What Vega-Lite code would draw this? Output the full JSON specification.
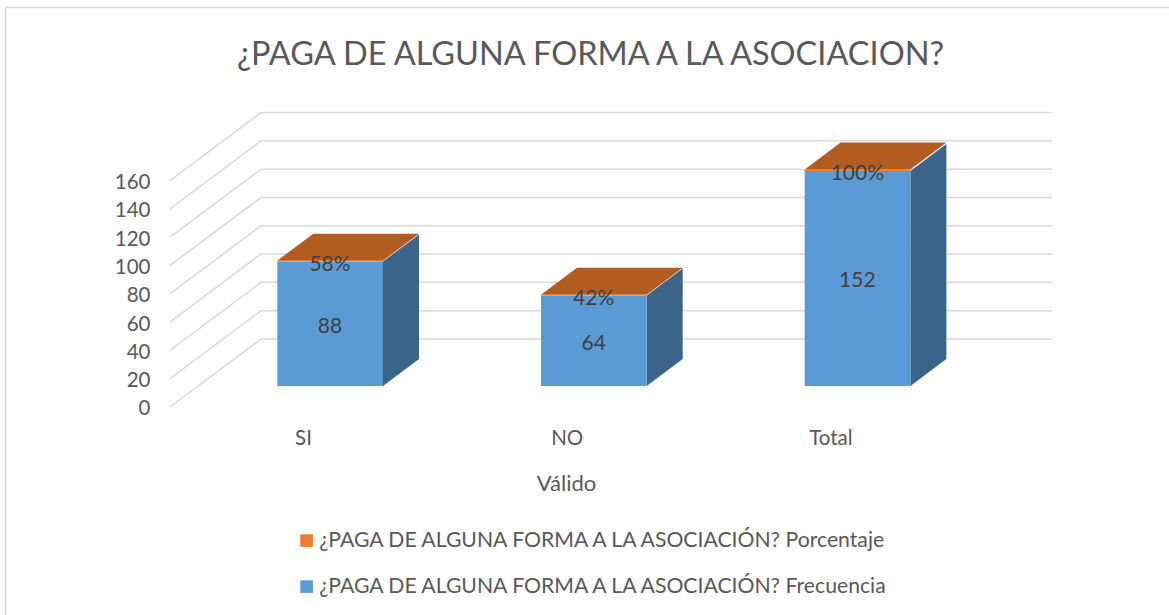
{
"$schema":"https://vega.github.io/schema/vega-lite/v6.json",
"width":1169,"height":615,"padding":0,"autosize":{"type":"none"},
"background":"white",
"config":{"view":{"stroke":null},"font":"Lato"},
"title":{"text":"¿PAGA DE ALGUNA FORMA A LA ASOCIACION?","font":"Lato","fontSize":32.5,"fontWeight":"normal","color":"#595959","anchor":"middle","frame":"group","offset":-71,"dx":6},
"datasets":{
"barras":[
{"categoria":"SI","serie":"¿PAGA DE ALGUNA FORMA A LA ASOCIACIÓN? Frecuencia","valor":88},
{"categoria":"NO","serie":"¿PAGA DE ALGUNA FORMA A LA ASOCIACIÓN? Frecuencia","valor":64},
{"categoria":"Total","serie":"¿PAGA DE ALGUNA FORMA A LA ASOCIACIÓN? Frecuencia","valor":152},
{"categoria":"SI","serie":"¿PAGA DE ALGUNA FORMA A LA ASOCIACIÓN? Porcentaje","valor":0.58},
{"categoria":"NO","serie":"¿PAGA DE ALGUNA FORMA A LA ASOCIACIÓN? Porcentaje","valor":0.42},
{"categoria":"Total","serie":"¿PAGA DE ALGUNA FORMA A LA ASOCIACIÓN? Porcentaje","valor":1}
],
"rejilla":[{"valor":0},{"valor":20},{"valor":40},{"valor":60},{"valor":80},{"valor":100},{"valor":120},{"valor":140},{"valor":160}]
},
"layer":[
{"data":{"name":"rejilla"},
 "transform":[{"calculate":"[0,1,2]","as":"t"},{"flatten":["t"]},
  {"calculate":"datum.t==0?-0.5044:(datum.t==1?-0.1593:2.84)","as":"gx"},
  {"calculate":"datum.valor+(datum.t>0?48.06:0)","as":"gy"}],
 "mark":{"type":"line","color":"#D9D9D9","strokeWidth":1.5,"interpolate":"linear"},
 "encoding":{
  "x":{"field":"gx","type":"quantitative","sort":null,"scale":{"domain":[-1.1491,3.2842],"nice":false,"zero":false},
   "axis":{"title":"Válido","values":[0,1,2],"labelExpr":"datum.value==0?'SI':(datum.value==1?'NO':'Total')","offset":-187,"domain":false,"ticks":false,"grid":false,"labelFont":"Lato","labelFontSize":20.5,"labelColor":"#595959","labelPadding":0,"titleFont":"Lato","titleFontSize":22,"titleFontWeight":"normal","titleColor":"#595959","titleX":566,"titleY":45,"titleAnchor":"middle"}},
  "y":{"field":"gy","type":"quantitative","scale":{"domain":[-147,287.6],"nice":false,"zero":false},
   "axis":{"title":null,"values":[0,20,40,60,80,100,120,140,160],"offset":-150,"domain":false,"ticks":false,"grid":false,"labelFont":"Lato","labelFontSize":20.5,"labelColor":"#595959","labelPadding":0,"labelBaseline":"middle","labelOffset":2}},
  "detail":{"field":"valor"},
  "order":{"field":"t"}
 }},
{"data":{"values":[{}]},"mark":{"type":"rule","color":"#D9D9D9","strokeWidth":1.5},
 "encoding":{"x":{"datum":-1.128},"y":{"datum":-147},"y2":{"datum":282.3}}},
{"data":{"values":[{}]},"mark":{"type":"rule","color":"#D9D9D9","strokeWidth":1.5},
 "encoding":{"x":{"datum":-1.128},"x2":{"datum":3.2842},"y":{"datum":282.3}}},
{"data":{"name":"barras"},
 "transform":[
  {"stack":"valor","groupby":["categoria"],"sort":[{"field":"serie","order":"ascending"}],"as":["v0","v1"]},
  {"calculate":"indexof(['SI','NO','Total'],datum.categoria)","as":"pos"},
  {"calculate":"datum.v0+14.84","as":"base"},
  {"calculate":"datum.v1+14.84","as":"cima"}
 ],
 "layer":[
  {"transform":[{"filter":"indexof(datum.serie,'Frecuencia')>=0"},{"calculate":"[0,1]","as":"t"},{"flatten":["t"]},
    {"calculate":"datum.pos+0.3034+datum.t*0.1365","as":"sx"},
    {"calculate":"datum.base+datum.t*19.08","as":"sy"},
    {"calculate":"datum.cima+datum.t*19.08","as":"sy2"}],
   "mark":{"type":"area","orient":"vertical","color":"#3A6489"},
   "encoding":{"x":{"field":"sx","type":"quantitative"},"y":{"field":"sy","type":"quantitative"},"y2":{"field":"sy2"},"detail":{"field":"categoria"}}},
  {"transform":[{"filter":"indexof(datum.serie,'Porcentaje')>=0"},{"calculate":"[0,1,2,3]","as":"t"},{"flatten":["t"]},
    {"calculate":"datum.pos+[-0.0975,0.039,0.3034,0.4399][datum.t]","as":"tx"},
    {"calculate":"datum.cima+(datum.t==3?19.08:0)","as":"ty"},
    {"calculate":"datum.cima+(datum.t>=1?19.08:0)","as":"ty2"}],
   "mark":{"type":"area","orient":"vertical","color":"#B35C21"},
   "encoding":{"x":{"field":"tx","type":"quantitative"},"y":{"field":"ty","type":"quantitative"},"y2":{"field":"ty2"},"detail":{"field":"categoria"}}},
  {"transform":[{"calculate":"datum.pos-0.0975","as":"fx"},{"calculate":"datum.pos+0.3034","as":"fx2"}],
   "mark":{"type":"rect"},
   "encoding":{"x":{"field":"fx","type":"quantitative"},"x2":{"field":"fx2"},"y":{"field":"base","type":"quantitative"},"y2":{"field":"cima"},
    "color":{"field":"serie","type":"nominal","scale":{"domain":["¿PAGA DE ALGUNA FORMA A LA ASOCIACIÓN? Porcentaje","¿PAGA DE ALGUNA FORMA A LA ASOCIACIÓN? Frecuencia"],"range":["#ED7D31","#5B9BD5"]},
     "legend":{"title":null,"orient":"none","legendX":296,"legendY":530,"direction":"vertical","columns":1,"symbolType":"square","symbolSize":160,"symbolStrokeWidth":0,"labelFont":"Lato","labelFontSize":21.2,"labelColor":"#595959","labelLimit":700,"rowPadding":24,"labelOffset":2}}}},
  {"transform":[{"filter":"indexof(datum.serie,'Frecuencia')>=0"},{"calculate":"datum.pos+0.1024","as":"lx"},{"calculate":"(datum.base+datum.cima)/2","as":"ly"}],
   "mark":{"type":"text","font":"Lato","fontSize":21,"color":"#404040","baseline":"middle","dy":3},
   "encoding":{"x":{"field":"lx","type":"quantitative"},"y":{"field":"ly","type":"quantitative"},"text":{"field":"valor","type":"quantitative","format":"d"}}},
  {"transform":[{"filter":"indexof(datum.serie,'Porcentaje')>=0"},{"calculate":"datum.pos+0.1024","as":"lx"},{"calculate":"(datum.base+datum.cima)/2","as":"ly"}],
   "mark":{"type":"text","font":"Lato","fontSize":21,"color":"#404040","baseline":"middle","dy":4},
   "encoding":{"x":{"field":"lx","type":"quantitative"},"y":{"field":"ly","type":"quantitative"},"text":{"field":"valor","type":"quantitative","format":".0%"}}}
 ]}
]
}
